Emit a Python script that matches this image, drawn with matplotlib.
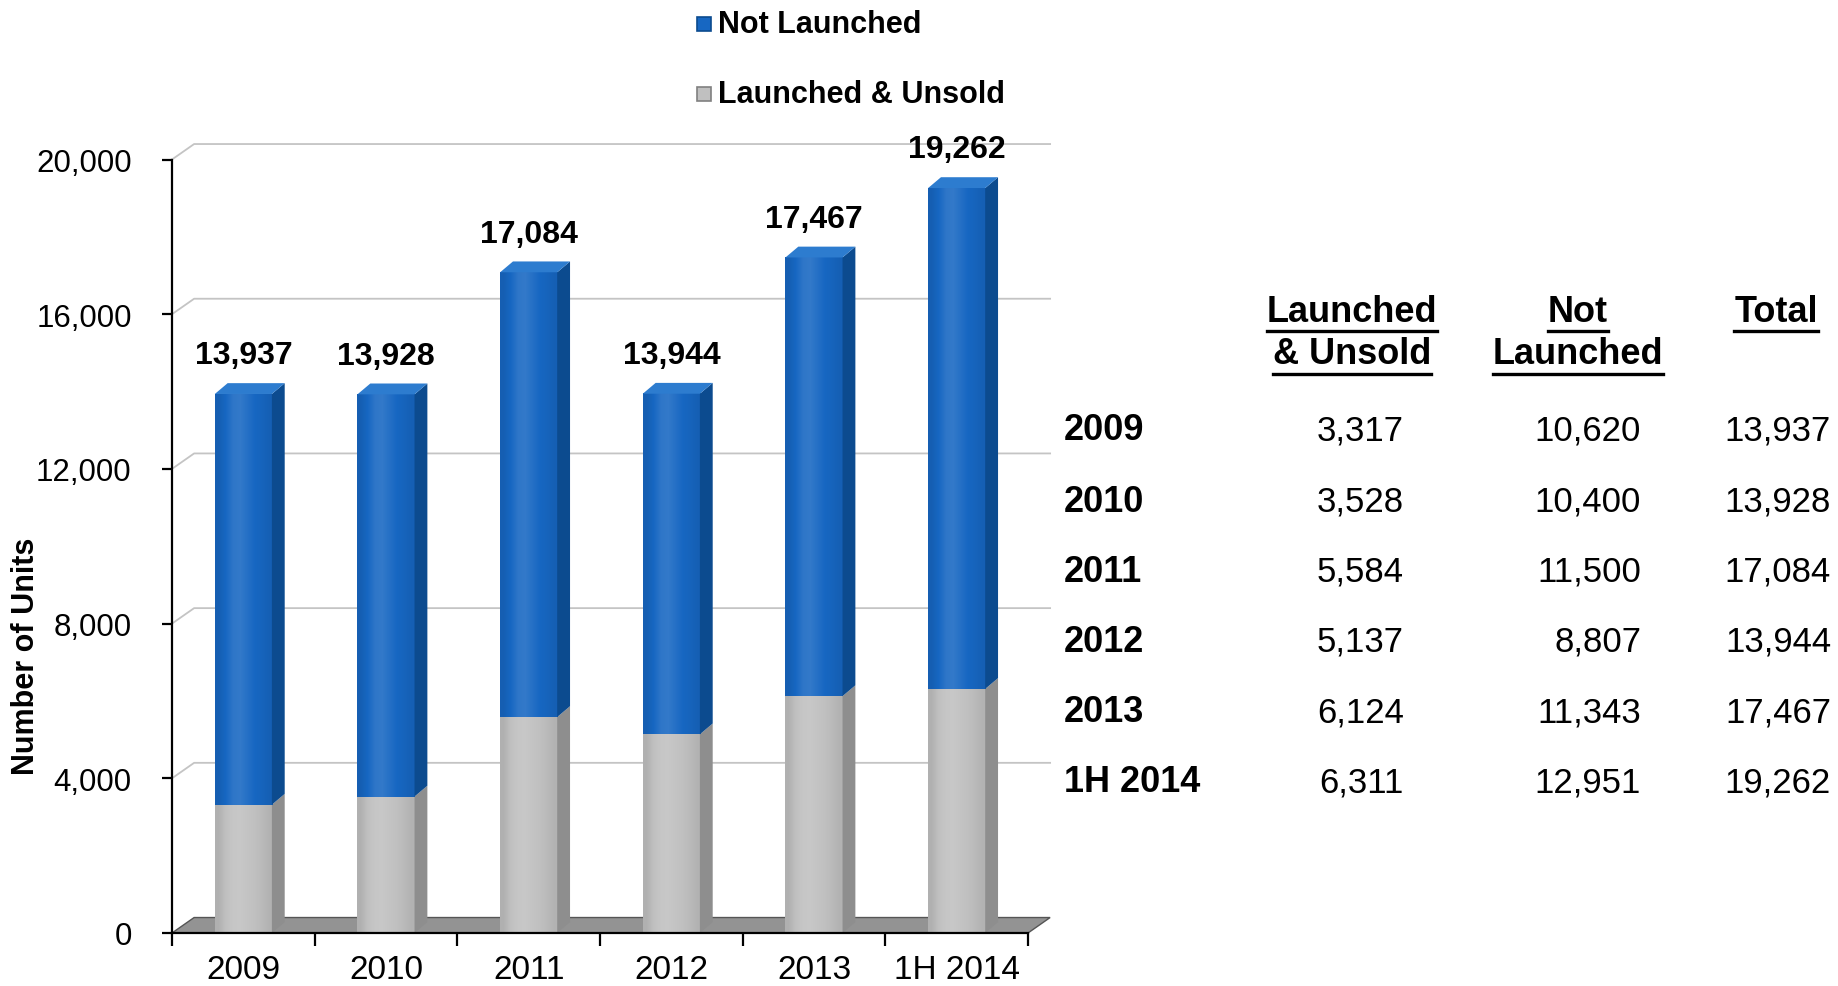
import numpy as np
import matplotlib
matplotlib.use("Agg")
import matplotlib.pyplot as plt
from matplotlib.patches import Polygon, Rectangle
from matplotlib.lines import Line2D
from matplotlib.colors import to_rgb

plt.rcParams['font.family'] = ['Liberation Sans', 'DejaVu Sans']

# units by year
years = ['2009', '2010', '2011', '2012', '2013', '1H 2014']
launched_unsold = [3317, 3528, 5584, 5137, 6124, 6311]
not_launched = [10620, 10400, 11500, 8807, 11343, 12951]
totals = [a + b for a, b in zip(launched_unsold, not_launched)]
y_ticks = [0, 4000, 8000, 12000, 16000, 20000]

W, H = 1838, 987
fig = plt.figure(figsize=(W / 100, H / 100), dpi=100)
ax = fig.add_axes([172 / W, 1 - 934 / H, 856 / W, (934 - 160.5) / H])


def fpos(x, y):
    # pixel position -> figure fraction
    return x / W, 1 - y / H


n = len(years)
wall_dx, wall_dy = 0.155, 400      # depth of the back wall
bar_w, bar_dx, bar_dy = 0.40, 0.09, 280

# back wall gridlines with the slanted left wall part
for v in y_ticks[1:]:
    ax.plot([0, wall_dx, n + wall_dx], [v, v + wall_dy, v + wall_dy],
            color='#c4c4c4', lw=1.3, zorder=1, clip_on=False)

# floor
ax.add_patch(Polygon([(0, 0), (n, 0), (n + wall_dx, wall_dy), (wall_dx, wall_dy)],
                     closed=True, fc='#939393', ec='#555555', lw=1.0,
                     zorder=2, clip_on=False))


def shade(c, f):
    r, g, b = to_rgb(c)
    if f >= 1:
        return tuple(x + (1 - x) * (f - 1) for x in (r, g, b))
    return tuple(x * f for x in (r, g, b))


def bar_segment(i, y0, y1, front, side, top=None):
    x0 = i + 0.5 - bar_w / 2
    x1 = i + 0.5 + bar_w / 2
    # front face with a soft horizontal gradient
    prof = np.array([0.92, 1.0, 1.10, 1.12, 1.06, 1.0, 0.97, 0.93])
    grad = np.array([[shade(front, p) for p in prof]])
    ax.imshow(grad, extent=[x0, x1, y0, y1], aspect='auto',
              interpolation='bilinear', zorder=3)
    ax.add_patch(Polygon([(x1, y0), (x1 + bar_dx, y0 + bar_dy),
                          (x1 + bar_dx, y1 + bar_dy), (x1, y1)],
                         closed=True, fc=side, ec='none', zorder=3))
    if top is not None:
        ax.add_patch(Polygon([(x0, y1), (x1, y1), (x1 + bar_dx, y1 + bar_dy),
                              (x0 + bar_dx, y1 + bar_dy)],
                             closed=True, fc=top, ec='none', zorder=3,
                             clip_on=False))


for i in range(n):
    lo = launched_unsold[i]
    hi = lo + not_launched[i]
    bar_segment(i, 0, lo, '#c0c0c0', '#8e8e8e')
    bar_segment(i, lo, hi, '#1767c2', '#0c4b8f', '#2d7ccf')
    ax.text(i + 0.5, totals[i] + 1000, f'{totals[i]:,}', ha='center', va='center',
            fontsize=23, fontweight='bold', zorder=6, clip_on=False)

ax.set_xlim(0, n)
ax.set_ylim(0, 20000)
ax.set_aspect('auto')

for s in ['top', 'right']:
    ax.spines[s].set_visible(False)
for s in ['left', 'bottom']:
    ax.spines[s].set_linewidth(1.6)
    ax.spines[s].set_color('black')
    ax.spines[s].set_zorder(10)

ax.set_yticks(y_ticks)
ax.set_yticklabels([f'{v:,}' for v in y_ticks])
ax.tick_params(axis='y', direction='out', length=7, width=1.6, pad=22, labelsize=22.5)
ax.set_xticks(range(n + 1))
ax.set_xticklabels([])
ax.tick_params(axis='x', which='major', direction='out', length=9, width=1.6)
ax.set_xticks([i + 0.5 for i in range(n)], minor=True)
ax.set_xticklabels(years, minor=True)
ax.tick_params(axis='x', which='minor', length=0, pad=15, labelsize=24)

fig.text(*fpos(26, 656), 'Number of Units', rotation=90, ha='center', va='center',
         fontsize=22, fontweight='bold')

# legend
legend_items = [('Not Launched', '#1767c2', '#0c4b8f', 25),
                ('Launched & Unsold', '#c0c0c0', '#808080', 95)]
for label, fc, ec, yc in legend_items:
    x0, y0 = fpos(697, yc + 7)
    fig.add_artist(Rectangle((x0, y0), 14 / W, 14 / H, transform=fig.transFigure,
                             fc=fc, ec=ec, lw=1.2))
    fig.text(*fpos(718, yc), label, ha='left', va='center', fontsize=22,
             fontweight='bold')

# table on the right
headers = [(['Launched', '& Unsold'], 1352), (['Not', 'Launched'], 1578), (['Total'], 1776)]
header_texts = []
for lines, xc in headers:
    for k, line in enumerate(lines):
        t = fig.text(*fpos(xc, 312 + 43 * k), line, ha='center', va='center',
                     fontsize=26, fontweight='bold')
        header_texts.append(t)

row_y = [431, 502, 572, 642, 713, 783]
col_right = [1404, 1641, 1831]
for r, yr in enumerate(years):
    fig.text(*fpos(1064, row_y[r]), yr, ha='left', va='center', fontsize=26,
             fontweight='bold')
    for c, val in enumerate([launched_unsold[r], not_launched[r], totals[r]]):
        fig.text(*fpos(col_right[c], row_y[r]), f'{val:,}', ha='right', va='center',
                 fontsize=25)

# underline header words
fig.canvas.draw()
renderer = fig.canvas.get_renderer()
for t in header_texts:
    bb = t.get_window_extent(renderer)
    yline = bb.y0 - 2
    fig.add_artist(Line2D([bb.x0 / W, bb.x1 / W], [yline / H, yline / H],
                          transform=fig.transFigure, color='black', lw=2.4))

fig.savefig('out.png', dpi=100)
